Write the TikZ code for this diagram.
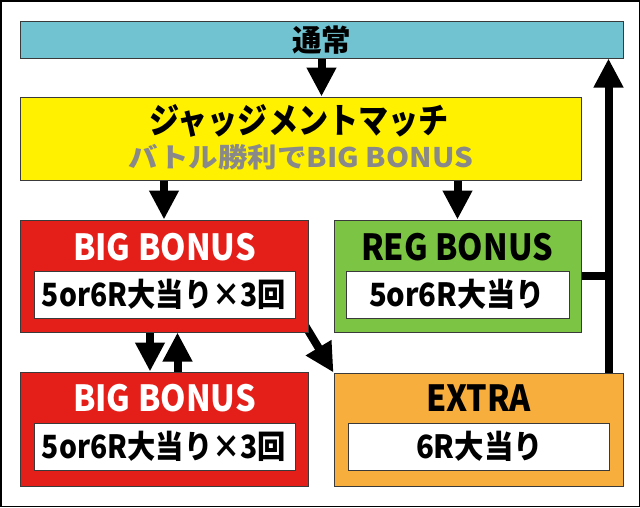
\documentclass[tikz,border=0pt]{standalone}
\usepackage{fontspec}
\usepackage{graphicx}
\IfFontExistsTF{Noto Sans CJK JP Black}
  {\newfontfamily\jp{Noto Sans CJK JP Black}}
  {\IfFontExistsTF{Noto Sans CJK JP Bold}
    {\newfontfamily\jp{Noto Sans CJK JP Bold}[FakeBold=1]}
    {\newfontfamily\jp{Noto Sans CJK JP}[FakeBold=3]}}
\usetikzlibrary{arrows.meta,backgrounds}
\definecolor{cteal}{HTML}{72C3D1}
\definecolor{cyellow}{HTML}{FFF100}
\definecolor{cred}{HTML}{E41F1A}
\definecolor{cgreen}{HTML}{7CC443}
\definecolor{corange}{HTML}{F8AE3C}
\definecolor{cgraytext}{HTML}{898989}
\definecolor{cborder}{HTML}{3A3A3A}
\newcommand\fittext[3]{\resizebox{#1pt}{\height}{\jp\fontsize{#2pt}{#2pt}\selectfont #3}}
\tikzset{
  box/.style={draw=cborder, line width=1pt, inner sep=0pt, rectangle},
  whitebox/.style={box, fill=white},
  label/.style={inner sep=0pt, anchor=center},
  conn/.style={line width=8pt, draw=black},
  arr/.style={conn, -{Triangle[length=29pt, width=28pt]}},
}
\begin{document}
\begin{tikzpicture}[x=1pt, y=-1pt]
\useasboundingbox (0,0) rectangle (640,507);
\draw[line width=1.5pt] (0.75,0.75) rectangle (639.25,506.25);
% boxes
\node[box, fill=cteal, minimum width=603pt, minimum height=37pt] (teal) at (321.5,39.5) {};
\node[box, fill=cyellow, minimum width=561pt, minimum height=83pt] (judge) at (300.5,138.5) {};
\node[box, fill=cred, minimum width=288pt, minimum height=112pt] (big1) at (164,276) {};
\node[box, fill=cgreen, minimum width=247pt, minimum height=112pt] (reg) at (457.5,276) {};
\node[box, fill=cred, minimum width=288pt, minimum height=114pt] (big2) at (164,429) {};
\node[box, fill=corange, minimum width=289pt, minimum height=113pt] (extra) at (478.5,429.5) {};
\node[whitebox, minimum width=261pt, minimum height=47pt] (w1) at (164.5,294.5) {};
\node[whitebox, minimum width=223pt, minimum height=47pt] (w2) at (457.5,294.5) {};
\node[whitebox, minimum width=261pt, minimum height=47pt] (w3) at (164.5,446.5) {};
\node[whitebox, minimum width=261pt, minimum height=47pt] (w4) at (478.5,446.5) {};
% texts
\node[label] (t0) at (321.5,40) {\fittext{59}{30}{通常}};
\node[label] (t1) at (299,121) {\fittext{300}{35}{ジャッジメントマッチ}};
\node[label, text=cgraytext] (t2) at (301,157) {\fittext{344}{27}{バトル勝利でBIG BONUS}};
\node[label, text=white] (t3) at (164.5,247) {\fittext{183}{36}{BIG BONUS}};
\node[label] (t4) at (164,294.5) {\fittext{244}{32}{5or6R大当り×3回}};
\node[label] (t5) at (457,247) {\fittext{192}{36}{REG BONUS}};
\node[label] (t6) at (457,294.5) {\fittext{176}{32}{5or6R大当り}};
\node[label, text=white] (t7) at (164.5,398) {\fittext{183}{36}{BIG BONUS}};
\node[label] (t8) at (164,446.5) {\fittext{244}{32}{5or6R大当り×3回}};
\node[label] (t9) at (478.5,398) {\fittext{105}{36}{EXTRA}};
\node[label] (t10) at (479.5,446.5) {\fittext{127}{32}{6R大当り}};
% connector helper coordinates
\coordinate (rx) at (608.5,0);
\coordinate (dx) at (150,0);
\coordinate (ux) at (177.5,0);
\coordinate (dstart) at (303,322);
\begin{scope}[on background layer]
\draw[arr] (teal.south) -- (teal.south |- judge.north);
\draw[arr] (judge.south -| big1.north) -- (big1.north);
\draw[arr] (judge.south -| reg.north) -- (reg.north);
\draw[arr] (big1.south -| dx) -- (big2.north -| dx);
\draw[arr] (big2.north -| ux) -- (big1.south -| ux);
\draw[arr] (dstart) -- (extra.north west);
\draw[arr] (extra.north -| rx) -- (teal.south -| rx);
\draw[conn] (reg.east) -- (reg.east -| rx);
\end{scope}
\end{tikzpicture}
\end{document}
